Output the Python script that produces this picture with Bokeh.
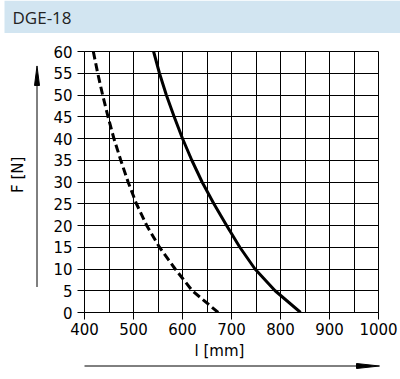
import math
from bokeh.plotting import figure
from bokeh.layouts import column, row
from bokeh.models import Range1d, FixedTicker
from bokeh.core.properties import value
from bokeh.embed import file_html
from bokeh.resources import INLINE

# ---- data ----
force_n = [60, 55, 50, 45, 40, 35, 30, 25, 20, 15, 10, 5, 0]
length_solid = [541, 553, 567, 583, 600, 619, 640, 664, 690, 717, 748, 789, 841]
length_dashed = [418, 427, 437, 448, 460, 474, 489, 506, 527, 553, 585, 620, 673]
x_ticks = [400, 500, 600, 700, 800, 900, 1000]
x_grid = [400, 450, 500, 550, 600, 650, 700, 750, 800, 850, 900, 950, 1000]
y_ticks = [0, 5, 10, 15, 20, 25, 30, 35, 40, 45, 50, 55, 60]
title_text = "DGE-18"
x_label = "l [mm]"
y_label = "F [N]"

FONT = "DejaVu Sans"
W, H = 400, 379
HEAD_H = 33          # header band height
LEFT_W = 44          # strip holding the y arrow and its label
BOT_Y = 340          # page y where the bottom strip starts
MAIN_H = BOT_Y - HEAD_H


def strip(width, y_top, y_bottom, x_left=0):
    """Helper figure whose data coordinates are page pixels (y downwards)."""
    f = figure(width=width, height=y_bottom - y_top,
               x_range=Range1d(x_left, x_left + width), y_range=Range1d(y_bottom, y_top),
               output_backend="svg", toolbar_location=None,
               x_axis_location=None, y_axis_location=None,
               min_border=0, min_border_left=0, min_border_right=0,
               min_border_top=0, min_border_bottom=0)
    f.grid.visible = False
    f.outline_line_color = None
    f.background_fill_color = "white"
    f.border_fill_color = "white"
    return f


# ---- header ----
header = strip(W, 0, HEAD_H)
header.quad(left=4, right=400, top=0, bottom=HEAD_H, fill_color="#d2e5f1", line_color=None)
header.text(x=[12], y=[17], text=[title_text], text_baseline="middle", text_align="left",
            text_font=value("Open Sans"), text_font_size="17px", text_color="#222222")

# ---- left strip: y arrow and label ----
left = strip(LEFT_W, HEAD_H, BOT_Y)
left.segment(x0=[36.5], y0=[310], x1=[36.5], y1=[68], line_color="black", line_width=1)
left.patch(x=[34, 39, 36.5], y=[73, 73, 50], fill_color="black", line_color="black", line_width=1)
left.text(x=[17], y=[178], text=[y_label], angle=math.pi / 2, text_align="center",
          text_baseline="middle", text_font=value(FONT), text_font_size="15px", text_color="black")

# ---- main chart ----
p = figure(width=W - LEFT_W, height=MAIN_H, x_range=Range1d(400, 1000), y_range=Range1d(0, 60),
           output_backend="svg", toolbar_location=None,
           min_border_left=84 - LEFT_W, min_border_right=22,
           min_border_top=51 - HEAD_H, min_border_bottom=BOT_Y - 312)
p.outline_line_color = "black"
p.outline_line_width = 1
p.background_fill_color = "white"
p.border_fill_color = "white"

for ax in (p.xaxis[0], p.yaxis[0]):
    ax.axis_line_color = "black"
    ax.major_tick_line_color = "black"
    ax.major_tick_in = 0
    ax.major_tick_out = 7
    ax.minor_tick_line_color = None
    ax.major_label_text_font = FONT
    ax.major_label_text_font_size = "15px"
    ax.major_label_text_color = "black"
p.yaxis[0].major_label_standoff = 5
p.xaxis[0].major_label_standoff = 3

p.xaxis[0].ticker = FixedTicker(ticks=x_ticks)
p.yaxis[0].ticker = FixedTicker(ticks=y_ticks)
p.xgrid[0].ticker = FixedTicker(ticks=x_grid)
p.ygrid[0].ticker = FixedTicker(ticks=y_ticks)
for g in (p.xgrid[0], p.ygrid[0]):
    g.grid_line_color = "black"
    g.grid_line_alpha = 1
    g.grid_line_width = 1

p.line(length_solid, force_n, line_width=3, line_color="black", line_join="round")
p.line(length_dashed, force_n, line_width=3, line_color="black", line_dash="8 4")

# ---- bottom strip: x label and arrow ----
bottom = strip(W, BOT_Y, H)
bottom.text(x=[219], y=[350], text=[x_label], text_align="center", text_baseline="middle",
            text_font=value(FONT), text_font_size="15px", text_color="black")
bottom.segment(x0=[84], y0=[365.5], x1=[360], y1=[365.5], line_color="black", line_width=1)
bottom.patch(x=[356, 356, 379], y=[363, 368, 365.5], fill_color="black", line_color="black", line_width=1)

layout = column(header, row(left, p), bottom)
open("out.html", "w").write(file_html(layout, INLINE))
